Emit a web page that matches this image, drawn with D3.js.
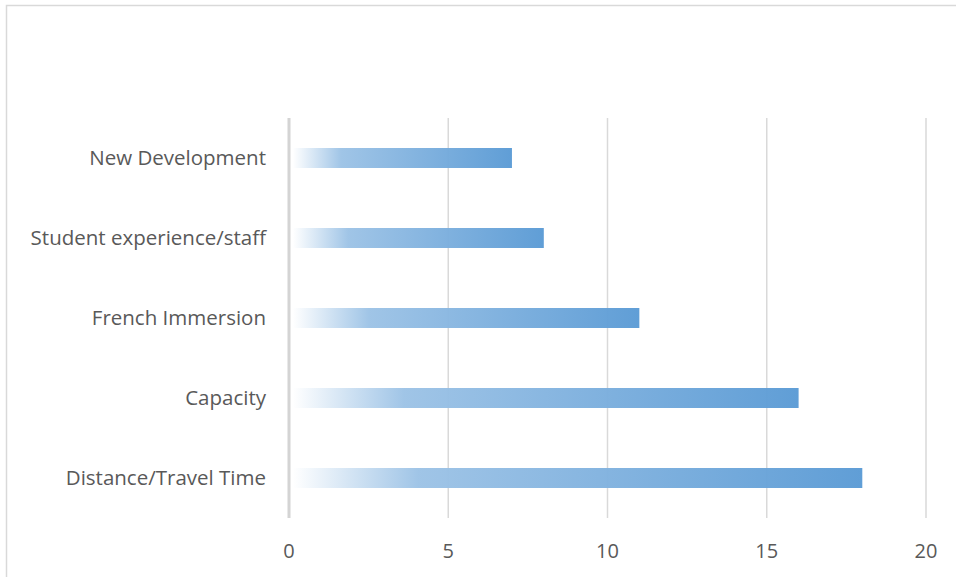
<!DOCTYPE html>
<html>
<head>
<meta charset="utf-8">
<script src="https://cdn.jsdelivr.net/npm/d3@7"></script>
<style>
  body { margin: 0; background: #fff; }
  svg { display: block; }
</style>
</head>
<body>
<svg></svg>
<script>
var categories = ["New Development", "Student experience/staff", "French Immersion", "Capacity", "Distance/Travel Time"]
var values = [7, 8, 11, 16, 18]
var ticks = [0, 5, 10, 15, 20]

var width = 956
var height = 577
var svg = d3.select('svg').attr('width', width).attr('height', height)

// chart frame
svg.append('rect')
  .attr('x', 6.5).attr('y', 5.5)
  .attr('width', width + 10).attr('height', height + 10)
  .attr('fill', 'none')
  .attr('stroke', '#d9d9d9')
  .attr('stroke-width', 1.5)

var plotLeft = 289, plotRight = 926, plotTop = 118, plotBottom = 518

var x = d3.scaleLinear().domain([0, 20]).range([plotLeft, plotRight])
var y = d3.scaleBand().domain(categories).range([plotTop, plotBottom]).paddingInner(0.75).paddingOuter(0.375)

var grad = svg.append('defs').append('linearGradient')
  .attr('id', 'barGrad')
  .attr('x1', 0).attr('x2', 1).attr('y1', 0).attr('y2', 0)
grad.append('stop').attr('offset', '0%').attr('stop-color', '#ffffff')
grad.append('stop').attr('offset', '22%').attr('stop-color', '#9dc3e6')
grad.append('stop').attr('offset', '100%').attr('stop-color', '#5b9bd5')

// gridlines
svg.append('g')
  .selectAll('line')
  .data(ticks)
  .enter().append('line')
  .attr('x1', d => x(d)).attr('x2', d => x(d))
  .attr('y1', plotTop).attr('y2', plotBottom)
  .attr('stroke', d => d === 0 ? '#d4d4d4' : '#d9d9d9')
  .attr('stroke-width', d => d === 0 ? 3 : 1.5)

// bars
svg.append('g')
  .selectAll('rect')
  .data(values)
  .enter().append('rect')
  .attr('x', x(0) + 4)
  .attr('y', (d, i) => y(categories[i]))
  .attr('width', d => x(d) - x(0) - 4)
  .attr('height', y.bandwidth())
  .attr('fill', 'url(#barGrad)')
  .attr('opacity', 0.97)

// category labels
svg.append('g')
  .selectAll('text')
  .data(categories)
  .enter().append('text')
  .attr('x', 266)
  .attr('y', d => y(d) + y.bandwidth() / 2)
  .attr('dy', '0.35em')
  .attr('text-anchor', 'end')
  .attr('font-family', 'Open Sans, sans-serif')
  .attr('font-size', 20.5)
  .attr('fill', '#595959')
  .text(d => d)

// tick labels
svg.append('g')
  .selectAll('text')
  .data(ticks)
  .enter().append('text')
  .attr('x', d => x(d))
  .attr('y', 551)
  .attr('dy', '0.35em')
  .attr('text-anchor', 'middle')
  .attr('font-family', 'Open Sans, sans-serif')
  .attr('font-size', 20)
  .attr('fill', '#595959')
  .text(d => d)
</script>
</body>
</html>
